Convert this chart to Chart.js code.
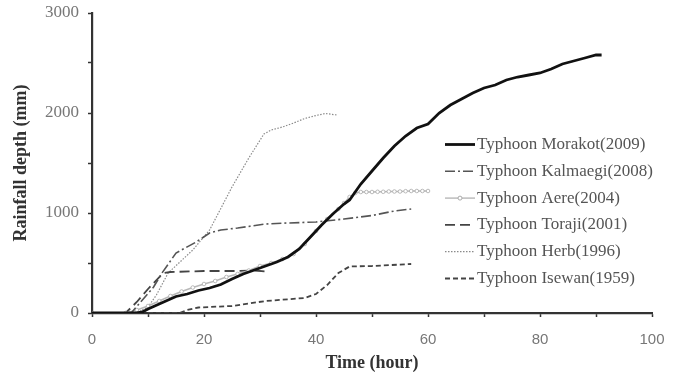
<!DOCTYPE html>
<html>
<head>
<meta charset="utf-8">
<script src="https://cdn.jsdelivr.net/npm/chart.js@4/dist/chart.umd.min.js"></script>
<style>
html,body{margin:0;padding:0;background:#fff;}
#wrap{width:675px;height:378px;}
</style>
</head>
<body>
<div id="wrap"><canvas id="c" width="675" height="378"></canvas></div>
<script>
// Series: [hour, rainfall depth (mm)]
const morakot2009 = [[0,0],[8,0],[9,10],[10,40],[12,90],[14,140],[15,165],[17,190],[19,225],[21,250],[23,285],[25,340],[27,390],[29,430],[31,470],[33,510],[35,560],[37,640],[39,760],[41,880],[43,990],[45,1090],[46,1130],[47,1210],[48,1290],[50,1420],[52,1550],[54,1670],[56,1770],[58,1850],[60,1890],[62,2000],[64,2080],[66,2140],[68,2200],[70,2250],[72,2280],[74,2330],[76,2360],[78,2380],[80,2400],[82,2440],[84,2490],[86,2520],[88,2550],[90,2580],[91,2580]];
const kalmaegi2008 = [[0,0],[7,0],[9,130],[11,260],[12.5,400],[15,600],[18.6,710],[21,800],[23,830],[26,850],[31,890],[35,900],[40,910],[45,940],[50,975],[54,1020],[57,1040]];
const aere2004 = [[0,0],[6,0],[8,30],[10,70],[12,120],[14,170],[16,215],[18,255],[20,290],[22,320],[24,360],[26,390],[28,425],[30,470],[32,500],[34,540],[36,590],[38,690],[40,820],[42,940],[44,1040],[45,1100],[46,1160],[47,1200],[48,1210],[49,1210],[50,1210],[51,1212],[52,1212],[53,1215],[54,1215],[55,1215],[56,1218],[57,1220],[58,1220],[59,1220],[60,1220]];
const toraji2001 = [[0,0],[6,0],[8,110],[10,240],[12.7,400],[14,410],[20,420],[26,420],[29,425],[31,415]];
const herb1996 = [[0,0],[8,0],[10,60],[11.5,180],[13.6,400],[18,630],[21,830],[25,1260],[28,1550],[30.7,1790],[32,1830],[34,1860],[36,1900],[38,1945],[40,1975],[41.7,1995],[43.7,1980]];
const isewan1959 = [[0,0],[15.6,0],[17,30],[19,55],[25,70],[31,120],[38,150],[40,190],[42,280],[44,400],[46,465],[50,470],[57,490]];

const seriesNames = ['Typhoon Morakot(2009)','Typhoon Kalmaegi(2008)','Typhoon Aere(2004)','Typhoon Toraji(2001)','Typhoon Herb(1996)','Typhoon Isewan(1959)'];
const xTicks = [0,20,40,60,80,100];
const yTicks = [0,1000,2000,3000];
const xTitle = 'Time (hour)';
const yTitle = 'Rainfall depth (mm)';

const toXY = arr => arr.map(p => ({x:p[0], y:p[1]}));

const styles = [
  {borderColor:'#111', borderWidth:2.8, borderDash:[], pointRadius:0},
  {borderColor:'#555', borderWidth:1.6, borderDash:[10,3,2,3], pointRadius:0},
  {borderColor:'#b8b8b8', borderWidth:1.4, borderDash:[], pointRadius:1.8, pointStyle:'circle', pointBorderColor:'#aaa', pointBackgroundColor:'#fff', pointBorderWidth:0.8},
  {borderColor:'#444', borderWidth:1.8, borderDash:[10,5], pointRadius:0},
  {borderColor:'#8a8a8a', borderWidth:1.2, borderDash:[1.5,1.5], pointRadius:0},
  {borderColor:'#444', borderWidth:1.8, borderDash:[5,3], pointRadius:0}
];
const allData = [morakot2009, kalmaegi2008, aere2004, toraji2001, herb1996, isewan1959];

const datasets = allData.map((d,i) => Object.assign({
  label: seriesNames[i],
  data: toXY(d),
  fill:false,
  tension:0,
  order: i===0 ? -1 : i
}, styles[i]));

const legendPlugin = {
  id:'customLegend',
  afterDraw(chart){
    const ctx = chart.ctx;
    const x0 = 445, x1 = 475, yStart = 144.5, step = 26.8;
    ctx.save();
    ctx.font = '17px "Liberation Serif", "Times New Roman", serif';
    ctx.textBaseline = 'middle';
    ctx.textAlign = 'left';
    chart.data.datasets.forEach((ds,i) => {
      const y = yStart + i*step;
      ctx.beginPath();
      ctx.setLineDash(ds.borderDash || []);
      ctx.strokeStyle = ds.borderColor;
      ctx.lineWidth = ds.borderWidth;
      ctx.moveTo(x0,y); ctx.lineTo(x1,y);
      ctx.stroke();
      ctx.setLineDash([]);
      if (ds.pointRadius > 0){
        ctx.beginPath();
        ctx.arc((x0+x1)/2, y, 2, 0, Math.PI*2);
        ctx.fillStyle = '#fff'; ctx.fill();
        ctx.strokeStyle = '#aaa'; ctx.lineWidth = 1; ctx.stroke();
      }
      ctx.fillStyle = '#555';
      ctx.fillText(ds.label, x1+2, y);
    });
    ctx.restore();
  }
};

new Chart(document.getElementById('c'), {
  type:'line',
  data:{datasets},
  plugins:[legendPlugin],
  options:{
    responsive:false,
    animation:false,
    devicePixelRatio:1,
    layout:{padding:{left:0, right:23, top:13, bottom:0}},
    plugins:{legend:{display:false}, tooltip:{enabled:false}},
    elements:{line:{borderCapStyle:'butt'}},
    scales:{
      x:{
        type:'linear', min:0, max:100,
        afterFit(s){ s.height = 65; s.paddingLeft = 0; s.paddingRight = 0; },
        afterBuildTicks(s){ s.ticks = [0,10,20,30,40,50,60,70,80,90,100].map(v=>({value:v})); },
        ticks:{
          callback:v => xTicks.includes(v) ? String(v) : '',
          autoSkip:false, maxRotation:0, padding:14,
          color:'#777', font:{family:'"Liberation Sans", Arial, sans-serif', size:15}
        },
        grid:{drawOnChartArea:false, drawTicks:true, tickLength:4, color:'#333', tickWidth:1.5},
        border:{color:'#333', width:2.2},
        title:{display:true, text:xTitle, color:'#333', padding:{top:0,bottom:4},
          font:{family:'"Liberation Serif", "Times New Roman", serif', size:18, weight:'bold'}}
      },
      y:{
        type:'linear', min:0, max:3000,
        afterFit(s){ s.width = 92; s.paddingTop = 0; s.paddingBottom = 0; },
        afterBuildTicks(s){ s.ticks = [0,500,1000,1500,2000,2500,3000].map(v=>({value:v})); },
        ticks:{
          callback:v => yTicks.includes(v) ? String(v) : '',
          autoSkip:false, padding:9,
          color:'#777', font:{family:'"Liberation Serif", "Times New Roman", serif', size:17}
        },
        grid:{drawOnChartArea:false, drawTicks:true, tickLength:4, color:'#333', tickWidth:1.5},
        border:{color:'#333', width:2.2},
        title:{display:true, text:yTitle, color:'#333', padding:{top:11,bottom:0},
          font:{family:'"Liberation Serif", "Times New Roman", serif', size:18, weight:'bold'}}
      }
    }
  }
});
</script>
</body>
</html>
